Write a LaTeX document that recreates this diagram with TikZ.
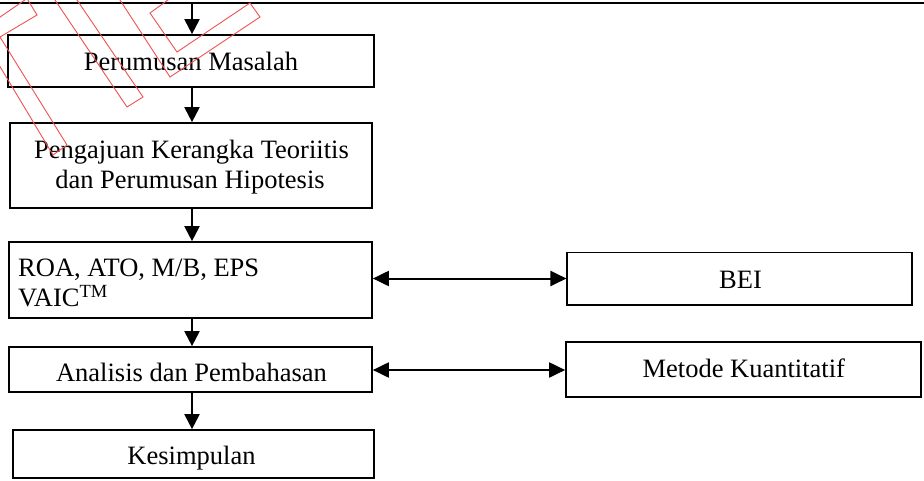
\documentclass[tikz,border=0pt]{standalone}
\usepackage{fontspec}
\setmainfont{Liberation Serif}
\usetikzlibrary{arrows.meta}

\definecolor{stampred}{RGB}{238,82,82}

\begin{document}
\begin{tikzpicture}[x=1pt,y=-1pt,
  box/.style={draw, line width=1.7pt, inner sep=0pt},
  lbl/.style={font=\fontsize{26.5}{30}\selectfont, inner sep=0pt},
  flow/.style={line width=2pt, -{Triangle[width=15pt,length=15pt]}},
  link/.style={line width=2pt, {Triangle[width=15pt,length=16pt]}-{Triangle[width=15pt,length=16pt]}},
  stamp/.style={draw=stampred, line width=0.9pt, line join=miter}
]
\useasboundingbox (0,0) rectangle (924,480);

% boxes of the main column
\node[box, minimum width=366pt, minimum height=52pt] (b1) at (191,61) {};
\node[box, minimum width=362pt, minimum height=85pt] (b2) at (191,165.5) {};
\node[box, minimum width=363pt, minimum height=76pt] (b3) at (190.5,280) {};
\node[box, minimum width=363pt, minimum height=45pt] (b4) at (190.5,369.5) {};
\node[box, minimum width=361pt, minimum height=48pt] (b5) at (193.5,454) {};
% boxes on the right
\node[box, minimum width=345pt, minimum height=52.7pt] (bei) at (739.8,278.7) {};
\node[box, minimum width=354.7pt, minimum height=54.4pt] (met) at (743.35,369.5) {};

% box texts
\node[lbl, anchor=base] (t1) at (191,70.7) {Perumusan Masalah};
\node[lbl, anchor=base] (t2a) at (191.5,158.3) {Pengajuan Kerangka Teoriitis};
\node[lbl, anchor=base] (t2b) at (190,188) {dan Perumusan Hipotesis};
\node[lbl, anchor=base west] (t3a) at (18,276.7) {ROA, ATO, M/B, EPS};
\node[lbl, anchor=base west] (t3b) at (18,306.5) {VAIC\textsuperscript{TM}};
\node[lbl, anchor=base] (t4) at (191.5,381.7) {Analisis dan Pembahasan};
\node[lbl, anchor=base] (t5) at (191.5,464.7) {Kesimpulan};
\node[lbl, anchor=base] (tb) at (740.5,288.3) {BEI};
\node[lbl, anchor=base] (tm) at (743.8,377.7) {Metode Kuantitatif};

% top rule and the downward flow
\coordinate (tl) at (0,3);
\coordinate (tr) at (924,3);
\draw[line width=1.7pt] (tl) -- (tr);
\coordinate (col) at (192,3);
\draw[flow] (col) -- (col |- b1.north);
\draw[flow] (b1.south -| col) -- (b2.north -| col);
\draw[flow] (b2.south -| col) -- (b3.north -| col);
\draw[flow] (b3.south -| col) -- (b4.north -| col);
\draw[flow] (b4.south -| col) -- (b5.north -| col);

% two-way links
\coordinate (h1) at (0,278.5);
\coordinate (h2) at (0,370);
\draw[link] (b3.east |- h1) -- (bei.west |- h1);
\draw[link] (b4.east |- h2) -- (met.west |- h2);

% red outline stamp in the upper left corner
\begin{scope}
  \clip (0,0) rectangle (924,480);
  \draw[stamp] (27,-1.5) -- (37,15) -- (0,37) -- (67,145) -- (53,155) -- (-21,31.5) -- cycle;
  \draw[stamp] (41.5,-20) -- (127,107) -- (143,97) -- (63.4,-20) -- cycle;
  \draw[stamp] (113.5,-10) -- (170,77) -- (260,17) -- (250,3) -- (177,52) -- (150,13) -- (181.8,-10) -- cycle;
\end{scope}
\end{tikzpicture}
\end{document}
